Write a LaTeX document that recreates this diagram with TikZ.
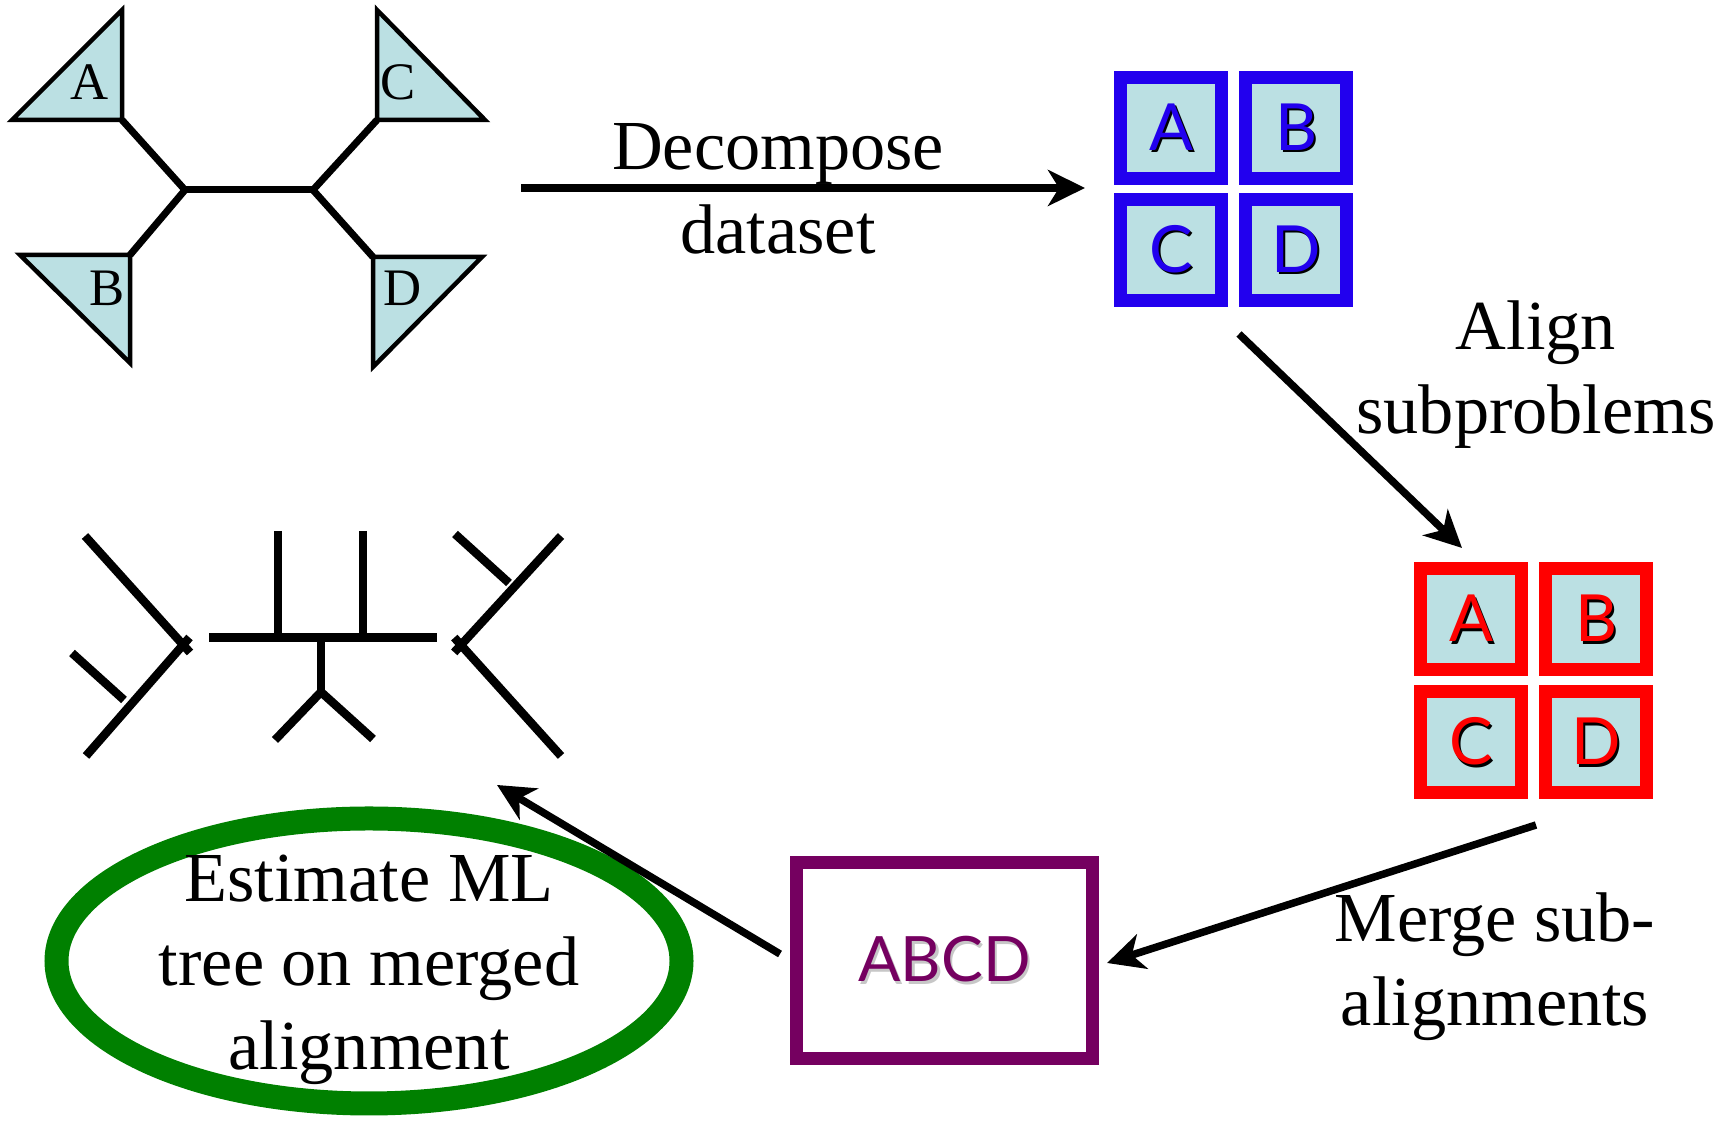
\documentclass[tikz,border=0pt]{standalone}
\usepackage{fontspec}
\setmainfont{Liberation Serif}
\newfontfamily\gillish{Lato}
\usepackage{tikz}
\usetikzlibrary{arrows.meta,shapes.geometric}

\definecolor{cellfill}{RGB}{187,224,227}
\definecolor{gridblue}{RGB}{34,0,238}
\definecolor{gridred}{RGB}{255,0,0}
\definecolor{mergepurple}{RGB}{117,0,96}
\definecolor{mlgreen}{RGB}{0,128,0}

% letters with a drop shadow behind them
\newcommand{\shadowed}[2]{\rlap{\kern0.025cm\raisebox{-0.025cm}{\color{#1}#2}}#2}

\begin{document}
\begin{tikzpicture}[
	flow/.style={line width=0.075cm,-{Stealth[length=0.37cm,width=0.36cm,inset=0.11cm]}},
	caption/.style={font=\fontsize{20}{24}\selectfont,align=center,anchor=base,inner sep=0pt},
	cell/.style={draw,fill=cellfill,line width=0.13cm,minimum size=1.01cm,inner sep=0pt,
		font=\gillish\fontsize{18.5}{20}\selectfont},
	tri/.style={draw,fill=cellfill,line width=0.045cm,line join=miter},
	leaf/.style={font=\fontsize{15}{16}\selectfont,inner sep=0pt},
	branch/.style={line width=0.07cm},
	twig/.style={line width=0.085cm}]
		\useasboundingbox (0,0) rectangle (17.30,11.21);
		
		%starting tree
		\draw[tri] (0.12,10.01) -- (1.22,11.11) -- (1.22,10.01) -- cycle;
		\draw[tri] (0.20,8.66) -- (1.30,8.66) -- (1.30,7.58) -- cycle;
		\draw[tri] (3.77,10.01) -- (3.77,11.11) -- (4.85,10.01) -- cycle;
		\draw[tri] (3.73,8.64) -- (4.82,8.64) -- (3.73,7.54) -- cycle;
		\draw[branch] (1.22,10.01) -- (1.85,9.31) -- (1.30,8.66);
		\draw[branch] (1.85,9.31) -- (3.13,9.31);
		\draw[branch] (3.77,10.01) -- (3.13,9.31) -- (3.73,8.64);
		\node[leaf] (leafA) at (0.90,10.39) {A};
		\node[leaf] (leafB) at (1.07,8.33) {B};
		\node[leaf] (leafC) at (3.98,10.39) {C};
		\node[leaf] (leafD) at (4.03,8.33) {D};
		
		%subsets
		\foreach \l/\x/\y in {A/11.71/9.93,B/12.96/9.93,C/11.71/8.71,D/12.96/8.71}{
		\node[cell,draw=gridblue,text=gridblue] (blue\l) at (\x,\y) {\shadowed{black}{\l}};}
		\foreach \l/\x/\y in {A/14.71/5.015,B/15.96/5.015,C/14.71/3.785,D/15.96/3.785}{
		\node[cell,draw=gridred,text=gridred] (red\l) at (\x,\y) {\shadowed{black}{\l}};}
		
		%merged alignment
		\node[draw=mergepurple,line width=0.13cm,minimum width=2.96cm,minimum height=1.96cm,
			text=mergepurple,font=\gillish\fontsize{17.8}{20}\selectfont] (abcd) at (9.445,1.605) {\shadowed{black!22}{ABCD}};
		
		%ML estimation
		\node[draw=mlgreen,line width=0.24cm,ellipse,minimum width=6.25cm,minimum height=2.85cm,inner sep=0pt] (mlring) at (3.69,1.60) {};
		\node[caption] (est) at (3.69,0.51) {Estimate ML\\tree on merged\\alignment};
		
		%resulting tree
		\draw[twig] (0.85,5.85) -- (1.90,4.685);
		\draw[twig] (0.86,3.65) -- (1.895,4.835);
		\draw[twig] (0.72,4.68) -- (1.24,4.21);
		\draw[twig] (2.09,4.835) -- (4.37,4.835);
		\draw[twig] (2.78,5.90) -- (2.78,4.835);
		\draw[twig] (3.63,5.90) -- (3.63,4.835);
		\draw[twig] (3.21,4.835) -- (3.21,4.29);
		\draw[twig] (2.75,3.81) -- (3.21,4.29) -- (3.73,3.82);
		\draw[twig] (5.61,5.85) -- (4.542,4.686);
		\draw[twig] (5.61,3.65) -- (4.543,4.834);
		\draw[twig] (4.55,5.87) -- (5.09,5.38);
		
		%steps
		\coordinate (decS) at (5.21,9.33);
		\coordinate (decE) at (10.85,9.33);
		\coordinate (alnS) at (12.39,7.87);
		\coordinate (alnE) at (14.62,5.73);
		\coordinate (mrgS) at (15.36,2.96);
		\coordinate (mrgE) at (11.07,1.58);
		\coordinate (estS) at (7.80,1.67);
		\coordinate (estE) at (4.97,3.36);
		\draw[flow] (decS) -- (decE);
		\draw[flow] (alnS) -- (alnE);
		\draw[flow] (mrgS) -- (mrgE);
		\draw[flow] (estS) -- (estE);
		\node[caption] (decompose) at (7.78,8.67) {Decompose\\dataset};
		\node[caption] (align) at (15.36,6.87) {Align\\subproblems};
		\node[caption] (merge) at (14.95,0.95) {Merge sub-\\alignments};
		
		\end{tikzpicture}
\end{document}
